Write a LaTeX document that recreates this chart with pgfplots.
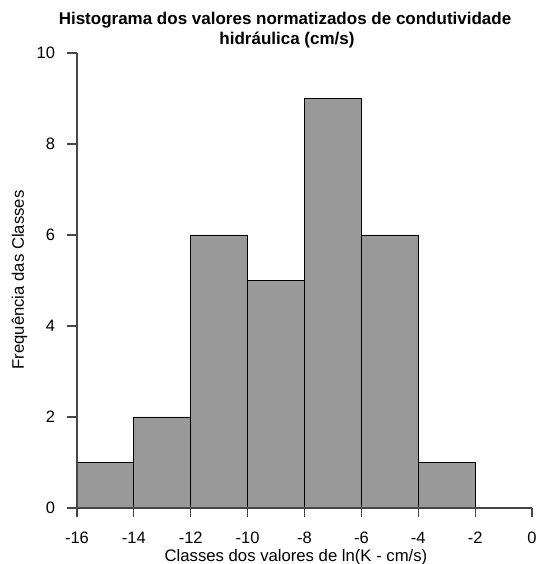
\documentclass[border=0pt]{standalone}
\usepackage{fontspec}
\setmainfont{Liberation Sans}
\usepackage{pgfplots}
\pgfplotsset{compat=1.18}
\definecolor{barfill}{RGB}{153,153,153}
\definecolor{axgray}{RGB}{70,70,70}
\begin{document}
\begin{tikzpicture}[x=1pt,y=1pt]
\begin{axis}[
  at={(0,0)}, anchor=south west,
  scale only axis, width=455pt, height=455pt,
  xmin=-16, xmax=0, ymin=0, ymax=10,
  axis lines=left,
  axis line style={-, line width=1.1pt, axgray},
  xtick={-16,-14,-12,-10,-8,-6,-4,-2,0},
  xticklabels={-16,-14,-12,-10,-8,-6,-4,-2,0},
  ytick={0,2,4,6,8,10},
  yticklabels={0,2,4,6,8,10},
  tick align=outside,
  major tick length=9.5pt,
  tick style={line width=1.1pt, axgray},
  tick label style={font=\fontsize{16.5}{19}\selectfont},
  xticklabel style={anchor=base, yshift=-26pt},
  yticklabel style={anchor=east, xshift=-9pt},
  clip=false,
  axis on top,
]
\addplot[ybar interval, fill=barfill, draw=black, line width=0.9pt]
  coordinates {(-16,1) (-14,2) (-12,6) (-10,5) (-8,9) (-6,6) (-4,1) (-2,1)};
\end{axis}
% title
\node[anchor=base, font=\bfseries\fontsize{17}{20}\selectfont] at (208,483) {Histograma dos valores normatizados de condutividade};
\node[anchor=base, font=\bfseries\fontsize{17}{20}\selectfont] at (210,463) {hidráulica (cm/s)};
% x label
\node[anchor=base, font=\fontsize{16.7}{20}\selectfont] at (219,-53) {Classes dos valores de ln(K - cm/s)};
% y label
\node[anchor=base, rotate=90, font=\fontsize{16.7}{20}\selectfont] at (-53,228) {Frequência das Classes};
\pgfresetboundingbox
\path (-77,-56) rectangle (461,508);
\end{tikzpicture}
\end{document}
